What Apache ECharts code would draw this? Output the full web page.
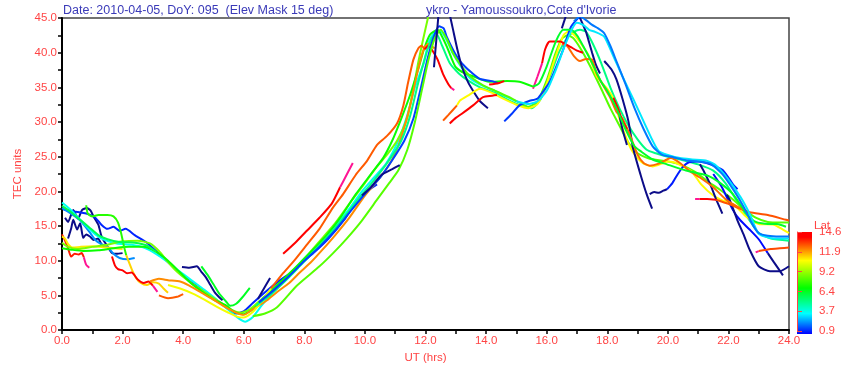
<!DOCTYPE html>
<html><head><meta charset="utf-8">
<script src="https://cdn.jsdelivr.net/npm/echarts@6/dist/echarts.min.js"></script>
<style>html,body{margin:0;padding:0;background:#fff}#c{width:848px;height:369px}</style>
</head><body><div id="c"></div>
<script>
// ---- data: [UT hour, TEC] per satellite track, plus latitude of each track ----
const t01 = [[0.1,16.2],[0.2,15.6],[0.37,17.3],[0.53,16.1],[0.66,17.3],[0.82,17.6],[0.95,17.2],[1.05,16.3],[1.2,15.2],[1.3,13.6],[1.45,12.4],[1.65,11.1],[1.8,11.0],[2.0,11.1]];
const t02 = [[0.2,13.2],[0.3,14.6],[0.37,15.9],[0.5,14.5],[0.6,15.4],[0.7,13.3],[0.8,13.8],[0.92,13.5],[1.05,13.0],[1.19,13.2],[1.35,12.1],[1.5,12.3]];
const t03 = [[0.05,17.4],[0.4,17.1],[0.8,16.8],[1.1,16.2],[1.3,15.2],[1.5,14.6],[1.7,14.9],[1.9,14.3],[2.1,14.6],[2.4,13.7],[2.8,12.6],[3.2,11.0],[3.6,9.4],[4.0,7.8],[4.4,6.5],[4.8,5.3],[5.2,4.0],[5.5,3.0],[5.75,2.4],[6.0,2.7],[6.3,3.9],[6.77,5.7],[7.2,7.2],[7.53,8.2],[8.0,10.0],[8.3,11.1],[8.8,13.2],[9.3,15.8],[9.7,18.4],[10.0,19.8],[10.4,21.0]];
const t04 = [[0.0,17.6],[0.3,16.8],[0.6,15.8],[0.9,14.2],[1.1,13.0],[1.3,12.4],[1.5,12.0],[1.7,11.0],[1.9,10.4],[2.15,10.2],[2.4,10.4]];
const t05 = [[0.0,18.4],[0.25,17.5],[0.5,16.4],[0.8,15.0],[1.1,13.8],[1.4,13.0],[1.8,12.5],[2.3,12.3],[2.7,11.9],[3.1,11.0],[3.5,9.8],[3.9,8.4],[4.3,7.1],[4.7,5.8],[5.1,4.4],[5.5,2.9],[5.8,1.8],[6.05,1.2],[6.3,1.9],[6.6,3.6],[6.97,5.4],[7.4,7.5],[7.86,9.7],[8.5,12.5],[9.0,14.9],[9.5,17.6],[9.9,20.0],[10.3,22.0],[10.7,24.0],[11.1,27.3],[11.4,31.0],[11.65,35.0],[11.95,38.6],[12.1,41.5],[12.3,42.9],[12.5,43.0],[12.7,41.8],[12.9,39.9],[13.2,37.8],[13.5,36.2],[13.9,35.2],[14.3,34.5],[14.7,33.6],[15.0,33.0]];
const t06 = [[0.0,13.8],[0.1,12.9],[0.2,11.8],[0.3,10.6],[0.42,11.0],[0.55,10.9],[0.65,11.1],[0.72,10.5]];
const t06p = [[0.72,10.5],[0.8,9.4],[0.9,9.0]];
const t07 = [[0.0,13.5],[0.1,13.2],[0.2,12.4],[0.35,11.9],[0.6,12.0],[1.0,12.1],[1.5,11.9],[2.0,11.7]];
const t08 = [[0.0,12.6],[0.2,12.0],[0.5,11.7],[1.0,12.0],[1.5,12.3],[2.0,12.8],[2.5,12.9],[2.9,12.5],[3.2,11.4],[3.5,9.8],[3.8,8.4],[4.2,7.0],[4.6,5.8],[5.0,4.6],[5.3,3.8],[5.6,2.9],[5.9,2.5],[6.2,3.0],[6.6,4.5],[7.0,6.0],[7.5,8.0],[8.0,10.3],[8.5,12.8],[9.0,15.3],[9.5,18.3],[10.0,21.2],[10.4,23.6],[10.73,25.3],[11.06,27.3],[11.39,30.5],[11.6,34.8],[11.76,38.6],[11.92,41.9],[12.08,45.0],[12.15,46.5]];
const t09 = [[0.0,11.8],[0.3,11.6],[0.7,11.4],[1.2,11.5],[1.7,11.8],[2.2,12.0],[2.7,12.0],[3.1,11.3],[3.5,10.0],[3.9,8.3],[4.3,6.6],[4.7,5.3],[5.0,4.4],[5.4,3.6],[5.7,2.6],[6.0,2.3],[6.3,3.0],[6.7,4.8],[7.2,6.9],[7.7,9.0],[8.2,11.2],[8.7,13.5],[9.2,16.3],[9.7,19.6],[10.2,22.5],[10.6,24.8],[10.9,27.3],[11.2,30.5],[11.5,34.0],[11.75,37.5],[11.95,40.5],[12.15,42.6],[12.4,43.3],[12.55,42.3],[12.7,40.9],[12.85,39.3],[13.0,37.9],[13.3,37.0],[13.57,36.6],[14.1,35.8],[14.7,35.9],[15.1,35.8],[15.55,35.1]];
const t10 = [[0.8,18.0],[0.85,16.8],[1.0,16.4],[1.2,16.6],[1.5,16.6],[1.7,16.4],[1.85,15.5],[1.95,14.0],[2.05,12.0],[2.12,10.8]];
const t11 = [[2.12,10.8],[2.3,8.8],[2.45,7.5],[2.6,6.8],[2.8,6.5],[3.0,6.9],[3.2,6.7],[3.35,6.0],[3.5,5.4]];
const t12 = [[1.65,10.6],[1.75,9.3],[1.85,8.8],[2.0,8.6],[2.15,8.2],[2.3,8.3],[2.5,7.3],[2.7,6.8],[2.85,7.0],[3.0,6.4]];
const t12p = [[3.0,6.4],[3.15,5.5]];
const t13 = [[2.9,7.0],[3.2,7.4],[3.5,7.2],[3.9,7.0],[4.2,6.4],[4.6,5.4],[5.0,4.4],[5.4,3.3],[5.7,2.6],[6.0,2.2],[6.3,3.0],[6.77,4.3],[7.1,5.5],[7.5,6.8],[7.85,8.3],[8.2,9.7],[8.6,11.6],[9.0,13.6],[9.5,16.3],[10.0,19.4],[10.5,22.0],[10.9,24.6],[11.2,27.8],[11.5,32.5],[11.75,37.5],[11.95,40.6],[12.1,41.3],[12.3,40.6]];
const t14 = [[3.2,5.0],[3.5,4.6],[3.8,4.8],[4.0,5.2]];
const t15 = [[3.5,6.5],[3.9,6.0],[4.3,5.3],[4.7,4.4],[5.1,3.4],[5.5,2.5],[5.8,1.9],[6.0,1.8],[6.3,2.6],[6.6,4.2],[6.9,6.0]];
const t16 = [[0.0,17.9],[0.3,17.0],[0.6,15.9],[0.9,14.8],[1.2,13.7],[1.5,13.1],[1.9,12.7],[2.4,12.6],[2.8,12.2],[3.1,11.3]];
const n00 = [[3.96,9.1],[4.2,9.0],[4.45,9.2],[4.6,8.4],[4.75,7.6],[4.9,6.5],[5.05,5.4],[5.2,4.7],[5.3,4.3]];
const g05 = [[4.6,9.2],[4.8,8.0],[5.0,6.6],[5.2,5.2],[5.4,4.2],[5.55,3.5],[5.75,3.8],[5.95,4.7],[6.2,6.1]];
const r01 = [[7.3,11.0],[7.7,12.6],[8.1,14.4],[8.5,16.2],[8.9,18.2],[9.18,20.6]];
const r01p = [[9.18,20.6],[9.35,22.0],[9.6,24.1]];
const r02 = [[6.9,6.0],[7.3,8.2],[7.7,10.2],[8.1,12.4],[8.5,14.6],[8.95,17.7],[9.28,19.6],[9.7,22.4],[10.07,24.4],[10.4,26.7],[10.73,28.0],[11.06,29.8],[11.27,32.4],[11.43,35.8],[11.6,39.0],[11.76,40.6],[11.87,41.0],[11.97,40.5]];
const r02r = [[11.97,40.5],[12.1,41.0],[12.2,40.5],[12.4,39.0],[12.58,36.9],[12.75,35.5],[12.85,34.9]];
const r02p = [[12.85,34.9],[12.95,34.6]];
const r06 = [[6.4,3.5],[6.8,4.8],[7.3,6.8],[7.8,9.0],[8.3,11.3],[8.8,13.6],[9.3,16.2],[9.8,19.0],[10.3,21.6],[10.8,24.5],[11.2,27.3],[11.5,31.0],[11.75,35.5],[12.0,39.5],[12.2,42.0],[12.35,42.8],[12.55,41.0],[12.8,38.5],[13.1,37.0],[13.4,36.0],[13.8,35.0],[14.3,34.2],[14.8,33.0],[15.2,32.3],[15.5,32.0],[15.8,33.3],[16.1,36.5],[16.4,40.0],[16.7,42.3],[16.9,43.0],[17.1,43.3],[17.3,43.0],[17.5,41.5],[17.8,38.5],[18.1,35.0],[18.4,32.0],[18.7,29.5],[19.0,27.5],[19.3,26.0],[19.6,25.5],[20.0,25.0],[20.5,24.5],[21.0,23.9],[21.5,23.0],[21.9,21.2],[22.3,18.5],[22.7,15.8],[23.0,14.0],[23.4,13.2],[24.0,12.9]];
const r07 = [[6.5,4.0],[7.0,5.8],[7.5,7.8],[8.0,10.0],[8.5,12.0],[9.0,14.3],[9.5,17.0],[10.0,19.6],[10.5,22.0],[10.9,24.5],[11.3,27.3],[11.6,30.5],[11.85,35.0],[12.05,38.8],[12.25,42.0],[12.45,43.8],[12.6,43.5],[12.7,42.3],[12.9,40.5],[13.1,39.0],[13.3,38.0],[13.5,37.2],[13.8,36.2],[14.2,35.9],[14.4,35.6]];
const r08 = [[6.3,2.0],[6.7,2.4],[7.1,3.3],[7.75,6.4],[8.5,9.2],[8.95,11.1],[9.4,13.2],[9.9,15.8],[10.4,18.8],[10.8,21.2],[11.1,23.0],[11.4,26.0],[11.65,30.0],[11.9,35.0],[12.1,39.0],[12.3,42.0],[12.5,43.3],[12.7,42.0],[12.9,40.0],[13.2,38.0],[13.5,36.5],[13.9,35.3],[14.3,34.5],[14.8,33.5],[15.1,32.8],[15.4,32.2],[15.7,33.0],[16.0,36.0],[16.3,40.0],[16.5,42.0],[16.7,42.5],[16.9,42.0],[17.2,40.0],[17.5,37.5],[17.8,34.8],[18.1,32.0],[18.4,29.5],[18.7,27.0],[19.0,25.5],[19.4,24.7],[19.9,24.4],[20.4,23.9],[20.9,22.8],[21.3,21.5],[21.7,20.3],[22.1,19.0],[22.5,17.5],[22.9,16.2],[23.3,15.6],[23.7,15.5],[24.0,15.5]];
const n01 = [[6.47,4.5],[6.6,5.5],[6.87,7.5]];
const n02 = [[9.9,19.4],[10.2,20.6],[10.55,22.4],[10.9,23.2],[11.15,23.8]];
const n03 = [[12.28,37.9],[12.33,40.5],[12.38,43.0],[12.43,45.5]];
const n05 = [[12.8,45.5],[12.9,43.5],[13.05,40.5],[13.2,38.0],[13.4,35.8],[13.6,34.3],[13.8,33.0],[14.06,32.0]];
const p01 = [[14.1,35.4],[14.4,35.6],[14.6,35.9]];
const m01 = [[12.58,30.2],[12.75,31.0],[13.04,32.4]];
const m01y = [[13.04,32.4],[13.14,33.1],[13.4,33.8],[13.8,34.8],[14.2,34.2],[14.6,33.3],[15.0,32.5],[15.4,32.0],[15.7,32.6],[16.0,35.5],[16.3,39.5],[16.55,42.5],[16.7,43.0],[16.9,42.6],[17.1,41.5],[17.4,39.5],[17.65,36.6],[18.0,34.8],[18.2,33.4],[18.4,30.5],[18.6,28.0],[18.8,26.0],[19.0,24.8],[19.2,24.0],[19.5,23.6],[19.8,24.0],[20.0,24.3],[20.2,24.2],[20.5,23.6],[20.8,22.8],[21.1,21.0],[21.5,19.4],[21.8,18.7],[22.2,18.0],[22.6,16.3],[23.0,15.3],[23.5,15.2],[23.8,14.5],[24.0,14.0]];
const m02 = [[12.8,29.8],[13.0,30.6],[13.2,31.2],[13.57,32.4],[13.9,33.6],[14.2,33.8],[14.36,33.9]];
const m03 = [[14.6,30.1],[14.85,31.2],[15.1,32.4],[15.4,33.0],[15.7,33.4],[15.9,34.5],[16.1,35.8],[16.3,37.8],[16.55,40.5],[16.8,43.7],[17.1,45.3]];
const n04 = [[16.5,43.5],[16.65,45.5]];
const n07 = [[17.05,45.5],[17.2,44.0],[17.3,43.0],[17.4,41.5],[17.5,40.0],[17.62,38.3],[17.76,37.0]];
const n08 = [[17.9,38.8],[18.0,38.3],[18.15,37.5],[18.3,36.2],[18.5,33.4],[18.7,30.1],[18.85,26.3],[19.1,22.4],[19.3,19.6],[19.48,17.5]];
const n09 = [[18.4,31.0],[18.5,29.0],[18.65,26.7]];
const n10 = [[19.4,19.6],[19.55,19.9],[19.7,19.8],[19.85,20.1],[19.97,20.3]];
const b11 = [[19.97,20.3],[20.15,21.2],[20.3,22.3],[20.47,23.4],[20.7,24.2],[21.0,24.3],[21.4,23.9],[21.8,23.1],[22.0,22.0],[22.15,21.0],[22.3,20.3]];
const n11 = [[21.06,23.9],[21.2,22.8],[21.4,21.0],[21.6,18.8],[21.8,16.8]];
const b12 = [[21.5,22.5],[21.8,20.5],[22.15,17.3],[22.4,15.8],[22.7,14.5],[23.0,13.1],[23.3,11.1]];
const n12b = [[23.3,11.1],[23.5,9.8],[23.8,7.9]];
const n12 = [[21.95,19.5],[22.05,18.7],[22.3,15.8],[22.5,13.8],[22.7,11.6],[23.0,9.2],[23.37,8.5],[23.7,8.5],[24.0,9.2]];
const e23p = [[22.9,11.2],[23.0,11.4]];
const e23 = [[23.0,11.4],[23.4,11.7],[23.7,11.8],[24.0,11.9]];
const e21p = [[20.9,18.9],[21.05,18.9]];
const e21 = [[21.05,18.9],[21.3,18.9],[21.6,18.8]];
const e21o = [[21.6,18.8],[22.0,18.2],[22.4,17.5],[22.7,17.0],[23.3,16.6],[23.9,15.9],[24.0,15.8]];
const a02 = [[16.5,41.2],[16.67,41.0],[16.9,39.5],[17.1,38.8],[17.3,39.1],[17.5,39.0],[17.65,37.0],[17.9,35.0],[18.1,33.5],[18.3,31.5],[18.5,30.5],[18.75,28.1],[19.0,25.3],[19.2,24.1],[19.4,23.7],[19.7,24.0],[19.97,24.6],[20.1,24.8],[20.4,24.1],[20.7,23.0],[21.06,22.0],[21.5,20.6],[21.95,18.7],[22.5,17.3]];
const mrp = [[15.55,34.8],[15.7,36.6],[15.85,38.5]];
const mr = [[15.85,38.5],[15.95,40.5],[16.1,41.6],[16.45,41.6],[16.6,41.3],[16.8,40.8],[17.0,40.3],[17.2,40.0]];
const r18 = [[18.2,33.5],[18.35,32.0],[18.5,30.2],[18.65,29.0]];
const a03 = [[15.55,35.1],[15.75,35.6],[16.0,38.0],[16.3,41.6],[16.55,43.3],[16.8,43.3],[17.0,42.5],[17.2,41.0],[17.5,38.5],[17.8,35.8],[18.0,34.5],[18.3,32.0],[18.6,29.0],[18.9,26.5],[19.1,25.8],[19.5,24.6],[19.97,23.9],[20.6,23.0],[21.3,22.3],[21.7,21.3],[22.15,19.6],[22.6,16.8],[22.9,15.6],[23.3,15.3],[23.6,15.3],[23.9,14.9]];
const a04 = [[15.0,33.0],[15.4,32.6],[15.7,33.0],[16.0,34.5],[16.3,37.5],[16.6,41.0],[16.85,43.5],[17.0,44.3],[17.2,44.0],[17.4,43.3],[17.6,43.0],[17.9,42.3],[18.2,39.5],[18.5,36.6],[18.85,33.4],[19.2,30.1],[19.5,27.3],[19.7,25.8],[19.97,25.3],[20.4,24.8],[20.8,24.6],[21.3,24.4],[21.6,23.7],[21.95,22.0],[22.4,19.2],[22.7,16.8],[23.0,13.9],[23.5,13.2],[24.0,13.2]];
const a05 = [[16.9,44.5],[17.1,45.2],[17.3,44.7],[17.5,44.0],[17.7,43.5],[17.9,42.8],[18.1,41.0],[18.3,38.8],[18.6,35.5],[18.9,32.0],[19.2,29.0],[19.5,26.5],[19.8,25.3],[20.2,24.9],[20.6,24.5],[21.0,24.3],[21.4,24.0],[21.8,22.5],[22.2,20.0],[22.5,17.8],[22.8,15.2],[23.0,14.0],[23.3,13.6],[23.7,13.5],[24.0,13.5]];

const tracks = [t01,t02,t03,t04,t05,t06,t06p,t07,t08,t09,t10,t11,t12,t12p,t13,t14,t15,t16,n00,g05,
  r01,r01p,r02,r02r,r02p,r06,r07,r08,n01,n02,n03,n05,p01,m01,m01y,m02,m03,n04,n07,n08,n09,n10,b11,n11,b12,n12b,n12,
  e23p,e23,e21p,e21,e21o,a02,mrp,mr,r18,a03,a04,a05];
const trackLat = [0.5,0.5,1.3,2.4,3.8,13.6,15.5,11.0,8.8,7.2,7.6,11.3,14.0,15.5,12.2,12.8,10.6,6.0,0.5,6.6,
  14.2,15.5,12.8,14.3,15.5,5.3,1.6,8.3,0.5,0.5,0.5,0.5,14.3,12.8,10.8,14.4,1.5,0.5,0.5,0.5,0.5,0.5,1.2,0.5,1.0,0.5,0.5,
  15.5,13.0,15.5,14.2,12.9,12.6,15.5,14.3,14.0,6.5,3.4,2.2];

const xTicks = [0,24,2];
const yTicks = [0,45,5];
const latMin = 0.9, latMax = 14.6;
const cbLabels = ['0.9','3.7','6.4','9.2','11.9','14.6'];

// ---- rendering ----
const stops = [[0,[0,0,255]],[0.2,[0,255,255]],[0.45,[0,255,0]],[0.72,[255,255,0]],[0.95,[255,0,0]],[1,[255,0,0]]];
function latColor(lat){
  if (lat < latMin) return '#0c0c88';
  if (lat > latMax) return '#ff1493';
  const f = (lat-latMin)/(latMax-latMin);
  for (let i=1;i<stops.length;i++){
    if (f <= stops[i][0]){
      const a = stops[i-1], b = stops[i];
      const t = (f-a[0])/(b[0]-a[0]||1);
      const c = a[1].map((v,k)=>Math.round(v+(b[1][k]-v)*t));
      return 'rgb('+c.join(',')+')';
    }
  }
  return '#ff0000';
}
const RED = '#ff4444';
const FONT = 'Liberation Sans, Arial, sans-serif';
const series = tracks.map((pts,i)=>({
  type:'line', data:pts, showSymbol:false, symbol:'none', smooth:0.2, clip:true,
  silent:true, lineStyle:{width:2, color:latColor(trackLat[i])}, z:2
}));
series.push({type:'line', xAxisIndex:1, yAxisIndex:1, data:[], silent:true});

const chart = echarts.init(document.getElementById('c'));
chart.setOption({
  animation:false,
  backgroundColor:'#fff',
  title:[
    {text:'Date: 2010-04-05, DoY: 095  (Elev Mask 15 deg)', left:63, top:4, padding:0, textStyle:{color:'#3a3ab8', fontSize:12.5, fontWeight:'normal', fontFamily:FONT}},
    {text:"ykro - Yamoussoukro,Cote d'Ivorie", left:426, top:4, padding:0, textStyle:{color:'#3a3ab8', fontSize:12.5, fontWeight:'normal', fontFamily:FONT}}
  ],
  grid:[
    {left:62, right:59, top:18, bottom:34, show:true, borderColor:'#444', borderWidth:1.5, containLabel:false},
    {left:797, top:232, width:15, height:99, show:false}
  ],
  xAxis:[
    {type:'value', min:xTicks[0], max:xTicks[1], interval:xTicks[2],
     name:'UT (hrs)', nameLocation:'middle', nameGap:18,
     nameTextStyle:{color:RED, fontSize:11.5, fontFamily:FONT},
     axisLine:{show:true, onZero:false, lineStyle:{color:'#000', width:2}},
     axisTick:{show:true, length:4, lineStyle:{color:'#000', width:1.5}},
     minorTick:{show:true, splitNumber:2, length:4, lineStyle:{color:'#000', width:1.5}},
     axisLabel:{color:RED, fontSize:11.5, fontFamily:FONT, margin:5, formatter:v=>v.toFixed(1)},
     splitLine:{show:false}},
    {gridIndex:1, type:'value', min:0, max:1, show:false}
  ],
  yAxis:[
    {type:'value', min:yTicks[0], max:yTicks[1], interval:yTicks[2],
     name:'TEC units', nameLocation:'middle', nameGap:36, nameRotate:90,
     nameTextStyle:{color:RED, fontSize:11.5, fontFamily:FONT},
     axisLine:{show:true, onZero:false, lineStyle:{color:'#000', width:2}},
     axisTick:{show:true, length:4, lineStyle:{color:'#000', width:1.5}},
     minorTick:{show:true, splitNumber:2, length:4, lineStyle:{color:'#000', width:1.5}},
     axisLabel:{color:RED, fontSize:11.5, fontFamily:FONT, margin:5, formatter:v=>v.toFixed(1)},
     splitLine:{show:false}},
    {gridIndex:1, type:'value', position:'right', min:0, max:cbLabels.length-1, interval:1,
     axisLine:{show:true, lineStyle:{color:RED, width:1}},
     axisTick:{show:true, length:5, lineStyle:{color:RED, width:1}},
     axisLabel:{color:RED, fontSize:11.5, fontFamily:FONT, margin:7, formatter:v=>cbLabels[v]},
     splitLine:{show:false}}
  ],
  graphic:[
    {type:'rect', left:797, top:232, shape:{width:15, height:102}, z:0,
     style:{fill:new echarts.graphic.LinearGradient(0,0,0,1,[
       {offset:0,color:'#ff0000'},{offset:0.05,color:'#ff0000'},{offset:0.28,color:'#ffff00'},
       {offset:0.55,color:'#00ff00'},{offset:0.8,color:'#00ffff'},{offset:1,color:'#0000ff'}])}},
    {type:'text', left:814, top:220, style:{text:'Lat', fill:RED, fontSize:11.5, fontFamily:FONT}}
  ],
  series:series
});
</script></body></html>
